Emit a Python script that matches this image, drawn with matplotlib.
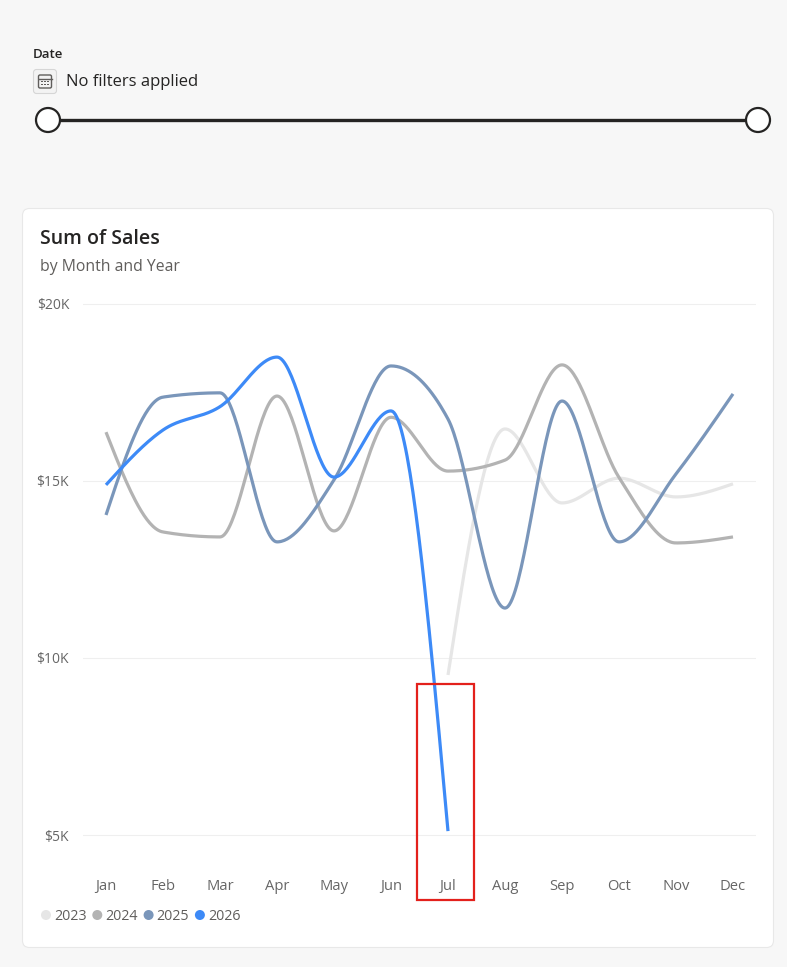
import numpy as np
import matplotlib
matplotlib.use("Agg")
import matplotlib.pyplot as plt
from matplotlib.patches import FancyBboxPatch, Rectangle, Circle

plt.rcParams["font.family"] = ["Open Sans", "DejaVu Sans"]

# Data (sales in $K)
months = ["Jan", "Feb", "Mar", "Apr", "May", "Jun", "Jul", "Aug", "Sep", "Oct", "Nov", "Dec"]
years = ["2023", "2024", "2025", "2026"]
sales_2023 = [None, None, None, None, None, None, 9.52, 16.47, 14.38, 15.08, 14.55, 14.92]
sales_2024 = [16.38, 13.56, 13.42, 17.40, 13.59, 16.80, 15.28, 15.59, 18.28, 15.10, 13.25, 13.42]
sales_2025 = [14.04, 17.37, 17.49, 13.28, 15.03, 18.25, 16.75, 11.41, 17.26, 13.28, 15.20, 17.46]
sales_2026 = [14.89, 16.44, 17.10, 18.50, 15.11, 16.98, 5.11, None, None, None, None, None]
colors = ["#e6e6e6", "#b3b3b3", "#7a96ba", "#3d8af7"]
yticks = [5, 10, 15, 20]
highlight_month = "Jul"

W, H = 787, 967


def monotone_x(xs, ys, n=40):
    """Monotone cubic like d3.curveMonotoneX."""
    xs = np.asarray(xs, float)
    ys = np.asarray(ys, float)
    k = len(xs)
    h = np.diff(xs)
    s = np.diff(ys) / h
    t = np.zeros(k)
    for i in range(1, k - 1):
        p = (s[i - 1] * h[i] + s[i] * h[i - 1]) / (h[i - 1] + h[i])
        t[i] = (np.sign(s[i - 1]) + np.sign(s[i])) * min(abs(s[i - 1]), abs(s[i]), 0.5 * abs(p))
    t[0] = (3 * s[0] - t[1]) / 2
    t[-1] = (3 * s[-1] - t[-2]) / 2
    out_x, out_y = [], []
    for i in range(k - 1):
        u = np.linspace(0, 1, n)
        dx = h[i]
        h00 = 2 * u**3 - 3 * u**2 + 1
        h10 = u**3 - 2 * u**2 + u
        h01 = -2 * u**3 + 3 * u**2
        h11 = u**3 - u**2
        out_x.append(xs[i] + u * dx)
        out_y.append(h00 * ys[i] + h10 * dx * t[i] + h01 * ys[i + 1] + h11 * dx * t[i + 1])
    return np.concatenate(out_x), np.concatenate(out_y)


fig = plt.figure(figsize=(W / 100, H / 100), dpi=100)
fig.patch.set_facecolor("#f7f7f7")

# background layer in pixel coordinates
bg = fig.add_axes([0, 0, 1, 1])
bg.set_xlim(0, W)
bg.set_ylim(H, 0)
bg.axis("off")

# slicer
bg.text(33, 54, "Date", fontsize=9.5, fontweight="semibold", color="#252423", va="center")
bg.add_patch(FancyBboxPatch((33.5, 69.5), 23, 24, boxstyle="round,pad=0,rounding_size=3",
                            fc="#f3f3f3", ec="#d6d6d6", lw=0.8))
bg.add_patch(FancyBboxPatch((38.5, 75), 13, 13, boxstyle="round,pad=0,rounding_size=1.5",
                            fc="none", ec="#605e5c", lw=1.0))
bg.plot([38.5, 51.5], [78.5, 78.5], color="#605e5c", lw=1.0)
for dx in (42, 45, 48):
    for dy in (81.5, 84.5):
        bg.add_patch(Rectangle((dx - 0.7, dy - 0.7), 1.4, 1.4, color="#605e5c", lw=0))
bg.text(66, 82, "No filters applied", fontsize=12, color="#252423", va="center")
bg.plot([48, 758], [120, 120], color="#252423", lw=2.4, solid_capstyle="butt")
for cx in (48, 758):
    bg.add_patch(Circle((cx, 120), 12, fc="white", ec="#252423", lw=1.6, zorder=3))

# card
bg.add_patch(FancyBboxPatch((22.5, 208.5), 751, 739, boxstyle="round,pad=0,rounding_size=7",
                            fc="white", ec="#e8e8e8", lw=0.8))
bg.text(40, 239.5, "Sum of Sales", fontsize=14, fontweight="semibold", color="#252423", va="center")
bg.text(40, 267, "by Month and Year", fontsize=11.3, color="#605e5c", va="center")

# legend
lx = 46
for yr, c in zip(years, colors):
    bg.add_patch(Circle((lx, 915), 5, fc=c, ec="none"))
    bg.text(lx + 8, 916.5, yr, fontsize=10.3, color="#605e5c", va="center")
    lx += 51.3

# plot area
x_left, x_right, y_top, y_bot = 83, 756, 300, 850
ax = fig.add_axes([x_left / W, 1 - y_bot / H, (x_right - x_left) / W, (y_bot - y_top) / H])
ax.patch.set_alpha(0)
px_per_month = 57.0
px_per_k = 35.4
ax.set_xlim(-(106 - x_left) / px_per_month, 11 + (x_right - 733) / px_per_month)
ax.set_ylim(5 - (y_bot - 835) / px_per_k, 5 + (835 - y_top) / px_per_k)
for sp in ax.spines.values():
    sp.set_visible(False)
ax.set_yticks(yticks)
ax.set_yticklabels([f"${v}K" for v in yticks])
ax.set_xticks(range(len(months)))
ax.set_xticklabels(months)
ax.tick_params(axis="both", length=0, labelcolor="#666666")
ax.tick_params(axis="y", pad=10, labelsize=10)
ax.tick_params(axis="x", pad=21, labelsize=10.6)
ax.grid(axis="y", color="#efefef", lw=0.8)
ax.set_axisbelow(True)

for series, c in zip([sales_2023, sales_2024, sales_2025, sales_2026], colors):
    idx = [i for i, v in enumerate(series) if v is not None]
    vals = [series[i] for i in idx]
    sx, sy = monotone_x(idx, vals)
    ax.plot(sx, sy, color=c, lw=2.3, solid_capstyle="butt", zorder=2)

# highlight box around July
j = months.index(highlight_month)
ax.add_patch(Rectangle((j - 0.54, 5 - (900 - 835) / px_per_k), 1.0, (900 - 684) / px_per_k,
                       fill=False, ec="#e3211c", lw=1.6, clip_on=False, zorder=5))

fig.savefig("out.png", dpi=100, facecolor=fig.get_facecolor())
